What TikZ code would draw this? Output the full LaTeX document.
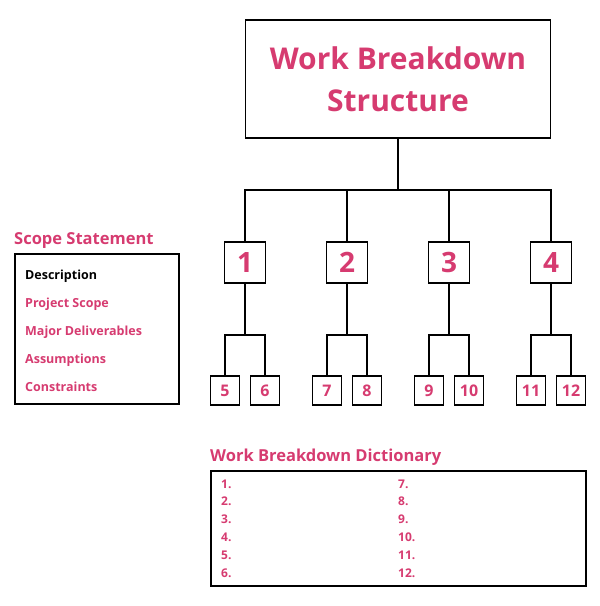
\documentclass[tikz,border=0pt]{standalone}
\usepackage{fontspec}
\setmainfont{Open Sans}
\usetikzlibrary{positioning}
\definecolor{wbspink}{HTML}{D63B70}

\begin{document}
\begin{tikzpicture}[x=1pt,y=-1pt,
every node/.style={font=\bfseries,text=wbspink},
box/.style={draw,line width=1.8pt,inner sep=0pt},
top box/.style={box,minimum width=305pt,minimum height=118pt,
  align=center,font=\bfseries\fontsize{30}{42}\selectfont},
level one/.style={box,minimum size=41pt,font=\bfseries\fontsize{28}{28}\selectfont},
level two/.style={box,minimum size=29pt,font=\bfseries\fontsize{16}{16}\selectfont},
heading/.style={anchor=base west,inner sep=0pt,font=\bfseries\fontsize{16.5}{16.5}\selectfont},
item/.style={anchor=base west,inner sep=0pt,font=\bfseries\fontsize{12.5}{12.5}\selectfont},
link/.style={line width=1.8pt}]
\useasboundingbox (0,0) rectangle (600,606);

\node[top box] (top) at (398,79) {Work Breakdown\\Structure};

\foreach \i/\x in {1/245,2/347,3/449,4/551}
  \node[level one] (n\i) at (\x,262.5) {\i};
\foreach \i/\p/\dx in {5/1/-20,6/1/20,7/2/-20,8/2/20,9/3/-20,10/3/20,11/4/-20,12/4/20}
  \node[level two] (m\i) at ([xshift=\dx pt]n\p |- 0,390.5) {\i};

\foreach \i in {1,...,4}
  \draw[link] (top.south) -- ++(0,51) -| (n\i.north);
\foreach \i/\p in {5/1,6/1,7/2,8/2,9/3,10/3,11/4,12/4}
  \draw[link] (n\p.south) -- ++(0,51) -| (m\i.north);

% scope statement
\node[heading] (scope) at (14,244) {Scope Statement};
\draw[box] (15,254) rectangle (179,404);
\node[item,text=black] (desc) at (25,279) {Description};
\node[item] (proj) at (25,307) {Project Scope};
\node[item] (major) at (25,335) {Major Deliverables};
\node[item] (assum) at (25,363) {Assumptions};
\node[item] (cons) at (25,391) {Constraints};

% dictionary
\node[heading] (dict) at (210,461) {Work Breakdown Dictionary};
\draw[box] (211,471) rectangle (586,586);
\foreach \i in {1,...,6}
  \node[item,font=\bfseries\fontsize{12}{12}\selectfont] (d\i) at (221,470.2+17.8*\i) {\i.};
\foreach \i in {7,...,12}
  \node[item,font=\bfseries\fontsize{12}{12}\selectfont] (d\i) at (398,470.2+17.8*\i-106.8) {\i.};
\end{tikzpicture}
\end{document}
